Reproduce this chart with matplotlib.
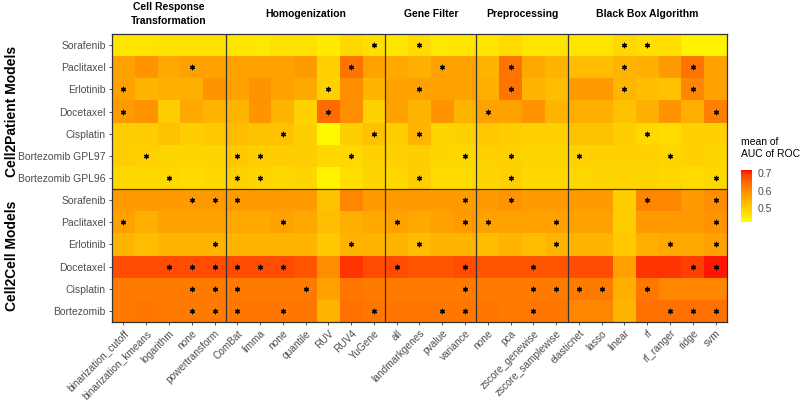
import matplotlib

matplotlib.use("Agg")

import matplotlib.pyplot as plt
import matplotlib.transforms as mtransforms
import numpy as np
from matplotlib.colors import ListedColormap

plt.rcParams["font.family"] = ["Liberation Sans", "DejaVu Sans"]

# columns of the heatmap, grouped by pipeline step
GROUPS = [
    ("Cell Response\nTransformation", ["binarization_cutoff", "binarization_kmeans", "logarithm", "none", "powertransform"]),
    ("Homogenization", ["ComBat", "limma", "none", "quantile", "RUV", "RUV4", "YuGene"]),
    ("Gene Filter", ["all", "landmarkgenes", "pvalue", "variance"]),
    ("Preprocessing", ["none", "pca", "zscore_genewise", "zscore_samplewise"]),
    ("Black Box Algorithm", ["elasticnet", "lasso", "linear", "rf", "rf_ranger", "ridge", "svm"]),
]

C2P_DRUGS = ["Sorafenib", "Paclitaxel", "Erlotinib", "Docetaxel", "Cisplatin",
             "Bortezomib GPL97", "Bortezomib GPL96"]
C2C_DRUGS = ["Sorafenib", "Paclitaxel", "Erlotinib", "Docetaxel", "Cisplatin", "Bortezomib"]

# mean AUC of ROC, one row per drug, 27 columns in the order of GROUPS
c2p_auc = [
    [0.465, 0.465, 0.47, 0.47, 0.47, 0.465, 0.46, 0.47, 0.47, 0.455, 0.485, 0.475, 0.465, 0.48, 0.46, 0.465, 0.465, 0.48, 0.465, 0.465, 0.465, 0.465, 0.485, 0.475, 0.475, 0.44, 0.44],
    [0.57, 0.59, 0.56, 0.57, 0.57, 0.57, 0.57, 0.57, 0.58, 0.495, 0.635, 0.57, 0.56, 0.55, 0.57, 0.57, 0.54, 0.635, 0.56, 0.54, 0.53, 0.53, 0.54, 0.55, 0.58, 0.635, 0.57],
    [0.57, 0.54, 0.55, 0.55, 0.59, 0.57, 0.59, 0.57, 0.56, 0.495, 0.60, 0.54, 0.57, 0.57, 0.57, 0.57, 0.55, 0.635, 0.54, 0.53, 0.58, 0.58, 0.54, 0.53, 0.52, 0.61, 0.57],
    [0.58, 0.59, 0.50, 0.56, 0.54, 0.54, 0.59, 0.54, 0.495, 0.645, 0.60, 0.495, 0.57, 0.54, 0.59, 0.54, 0.57, 0.57, 0.59, 0.54, 0.55, 0.55, 0.52, 0.55, 0.59, 0.55, 0.62],
    [0.50, 0.50, 0.52, 0.50, 0.51, 0.53, 0.52, 0.52, 0.50, 0.43, 0.50, 0.52, 0.50, 0.54, 0.49, 0.495, 0.51, 0.50, 0.495, 0.495, 0.52, 0.52, 0.50, 0.485, 0.48, 0.495, 0.495],
    [0.50, 0.495, 0.49, 0.49, 0.49, 0.51, 0.50, 0.50, 0.50, 0.485, 0.485, 0.495, 0.495, 0.50, 0.49, 0.485, 0.495, 0.495, 0.49, 0.49, 0.495, 0.495, 0.495, 0.495, 0.49, 0.495, 0.49],
    [0.485, 0.485, 0.485, 0.48, 0.485, 0.495, 0.49, 0.485, 0.49, 0.44, 0.475, 0.49, 0.485, 0.50, 0.48, 0.48, 0.49, 0.495, 0.485, 0.485, 0.485, 0.49, 0.49, 0.49, 0.485, 0.48, 0.485],
]
c2c_auc = [
    [0.58, 0.58, 0.58, 0.58, 0.58, 0.58, 0.58, 0.58, 0.58, 0.52, 0.61, 0.58, 0.58, 0.58, 0.58, 0.58, 0.58, 0.59, 0.58, 0.58, 0.58, 0.58, 0.50, 0.61, 0.61, 0.58, 0.60],
    [0.57, 0.55, 0.57, 0.57, 0.57, 0.56, 0.56, 0.57, 0.56, 0.53, 0.55, 0.56, 0.57, 0.56, 0.57, 0.58, 0.57, 0.57, 0.57, 0.57, 0.57, 0.57, 0.50, 0.58, 0.58, 0.58, 0.59],
    [0.54, 0.53, 0.54, 0.54, 0.54, 0.54, 0.54, 0.54, 0.54, 0.51, 0.54, 0.54, 0.54, 0.53, 0.54, 0.54, 0.53, 0.54, 0.53, 0.54, 0.54, 0.54, 0.51, 0.55, 0.56, 0.56, 0.57],
    [0.68, 0.68, 0.68, 0.68, 0.68, 0.68, 0.68, 0.68, 0.67, 0.60, 0.70, 0.68, 0.68, 0.67, 0.67, 0.68, 0.67, 0.67, 0.67, 0.67, 0.68, 0.68, 0.57, 0.70, 0.70, 0.69, 0.715],
    [0.625, 0.625, 0.625, 0.625, 0.625, 0.625, 0.625, 0.625, 0.625, 0.57, 0.63, 0.625, 0.625, 0.625, 0.625, 0.625, 0.625, 0.625, 0.625, 0.625, 0.625, 0.625, 0.55, 0.63, 0.61, 0.61, 0.61],
    [0.625, 0.63, 0.625, 0.625, 0.625, 0.63, 0.63, 0.63, 0.63, 0.54, 0.64, 0.63, 0.63, 0.63, 0.63, 0.63, 0.63, 0.625, 0.63, 0.63, 0.61, 0.61, 0.54, 0.64, 0.64, 0.64, 0.64],
]

# column indices marked with an asterisk (best option per drug and step)
c2p_star = [
    [11, 13, 22, 23],
    [3, 10, 14, 17, 22, 25],
    [0, 9, 13, 17, 22, 25],
    [0, 9, 16, 26],
    [7, 11, 13, 23],
    [1, 5, 6, 10, 15, 17, 20, 24],
    [2, 5, 6, 13, 17, 26],
]
c2c_star = [
    [3, 4, 5, 15, 17, 23, 26],
    [0, 7, 12, 15, 16, 19, 26],
    [4, 10, 13, 19, 24, 26],
    [2, 3, 4, 5, 6, 7, 12, 15, 18, 25, 26],
    [3, 4, 5, 8, 15, 18, 19, 20, 21, 23],
    [3, 4, 5, 7, 11, 14, 15, 18, 24, 25, 26],
]

VMIN, VMAX = 0.42, 0.72
W, H = 800, 401


def _to_lab(rgb):
    rgb = np.asarray(rgb, float)
    lin = np.where(rgb <= 0.04045, rgb / 12.92, ((rgb + 0.055) / 1.055) ** 2.4)
    m = np.array([[0.4124, 0.3576, 0.1805], [0.2126, 0.7152, 0.0722], [0.0193, 0.1192, 0.9505]])
    xyz = m @ lin / np.array([0.95047, 1.0, 1.08883])
    f = np.where(xyz > 0.008856, np.cbrt(xyz), 7.787 * xyz + 16 / 116)
    return np.array([116 * f[1] - 16, 500 * (f[0] - f[1]), 200 * (f[1] - f[2])])


def _from_lab(lab):
    L, a, b = lab
    fy = (L + 16) / 116
    f = np.array([fy + a / 500, fy, fy - b / 200])
    xyz = np.where(f ** 3 > 0.008856, f ** 3, (f - 16 / 116) / 7.787) * np.array([0.95047, 1.0, 1.08883])
    m = np.array([[3.2406, -1.5372, -0.4986], [-0.9689, 1.8758, 0.0415], [0.0557, -0.2040, 1.0570]])
    lin = np.clip(m @ xyz, 0, 1)
    rgb = np.where(lin <= 0.0031308, 12.92 * lin, 1.055 * lin ** (1 / 2.4) - 0.055)
    return np.clip(rgb, 0, 1)


# yellow -> red gradient interpolated in Lab (like ggplot's scale_fill_gradient)
lab_lo, lab_hi = _to_lab([1, 1, 0]), _to_lab([1, 0, 0])
cmap = ListedColormap([_from_lab(lab_lo + t * (lab_hi - lab_lo)) for t in np.linspace(0, 1, 256)])

columns = [c for _, cols in GROUPS for c in cols]
drugs = C2P_DRUGS + C2C_DRUGS
values = np.array(c2p_auc + c2c_auc)
stars = c2p_star + c2c_star
n_rows, n_cols = values.shape

fig = plt.figure(figsize=(W / 100, H / 100), dpi=100)
ax = fig.add_axes([112 / W, 1 - 322 / H, (727 - 112) / W, (322 - 34) / H])
mesh = ax.pcolormesh(np.arange(n_cols + 1), np.arange(n_rows + 1), values,
                     cmap=cmap, vmin=VMIN, vmax=VMAX)
ax.set_xlim(0, n_cols)
ax.set_ylim(n_rows, 0)

for r, cols in enumerate(stars):
    ax.scatter(np.array(cols) + 0.5, np.full(len(cols), r + 0.5), marker=(6, 2, 0),
               s=10, linewidths=0.9, color="black", zorder=3)

# panel separators
edge = "#333333"
pos = 0
for _, cols in GROUPS[:-1]:
    pos += len(cols)
    ax.axvline(pos, color=edge, lw=0.9)
ax.axhline(len(C2P_DRUGS), color=edge, lw=0.9)
for sp in ax.spines.values():
    sp.set_color(edge)
    sp.set_linewidth(0.9)

ax.set_xticks(np.arange(n_cols) + 0.5)
ax.set_xticklabels(columns, rotation=45, ha="right", rotation_mode="anchor",
                   fontsize=7.3, color="#4d4d4d")
ax.set_yticks(np.arange(n_rows) + 0.5)
ax.set_yticklabels(drugs, fontsize=7.5, color="#4d4d4d")
ax.tick_params(length=2.5, width=0.6, color=edge, pad=2)

# facet strip labels
trans_top = mtransforms.blended_transform_factory(ax.transData, fig.transFigure)
pos = 0
for name, cols in GROUPS:
    ax.text(pos + len(cols) / 2, 1 - 14 / H, name, transform=trans_top, ha="center",
            va="center", fontsize=7.5, fontweight="bold", linespacing=1.5)
    pos += len(cols)

trans_left = mtransforms.blended_transform_factory(fig.transFigure, ax.transData)
ax.text(12 / W, len(C2P_DRUGS) / 2, "Cell2Patient Models", transform=trans_left,
        rotation=90, ha="center", va="center", fontsize=10, fontweight="bold")
ax.text(12 / W, len(C2P_DRUGS) + len(C2C_DRUGS) / 2, "Cell2Cell Models", transform=trans_left,
        rotation=90, ha="center", va="center", fontsize=10, fontweight="bold")

# legend
cax = fig.add_axes([741 / W, 1 - 222 / H, 11 / W, 52 / H])
cb = fig.colorbar(mesh, cax=cax, ticks=[0.5, 0.6, 0.7])
cb.outline.set_visible(False)
cb.ax.tick_params(length=2, width=0.5, color="white", labelsize=7.5, labelcolor="#4d4d4d", pad=2)
fig.text(741 / W, 1 - 148 / H, "mean of\nAUC of ROC", ha="left", va="center", fontsize=7.5)

fig.savefig("out.png", dpi=100)
